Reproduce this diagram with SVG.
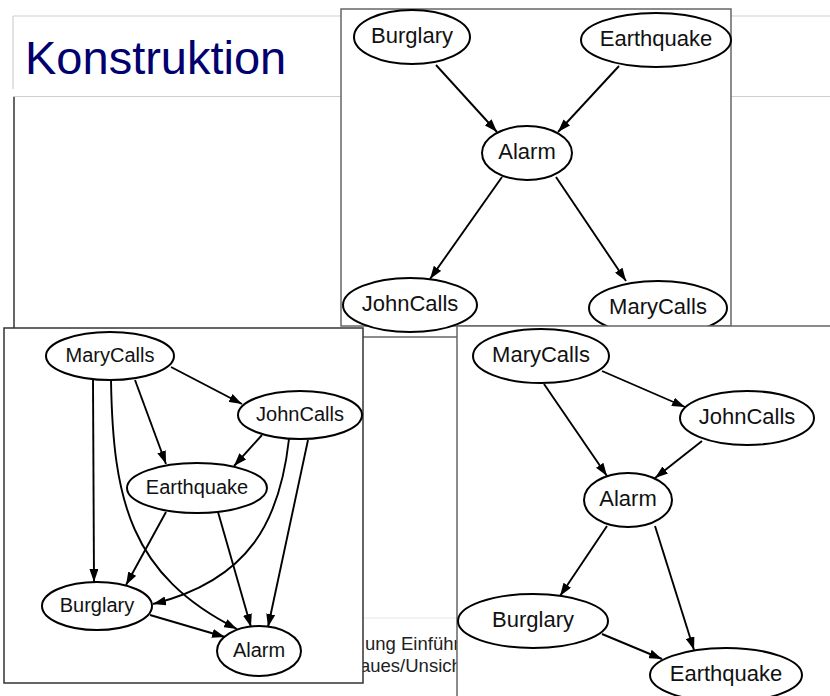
<svg xmlns="http://www.w3.org/2000/svg" width="830" height="696" viewBox="0 0 830 696">
<style>
.bg{fill:#fff}
.tl{stroke:#cfcfcf;stroke-width:1.2;fill:none}
.panel{fill:#fff;stroke:#666;stroke-width:1.5}
.node ellipse{fill:#fff;stroke:#000;stroke-width:2}
.node text{font-family:"Liberation Sans",Arial,sans-serif;fill:#111;text-anchor:middle}
.g1 .node text,.g3 .node text{font-size:22px}
.g2 .node text{font-size:20px}
.edges path,.edges line{stroke:#000;stroke-width:1.9;fill:none;marker-end:url(#ah)}
.title{font-family:"Liberation Sans",Arial,sans-serif;font-size:47px;fill:#00006e}
.foot{font-family:"Liberation Sans",Arial,sans-serif;font-size:18.5px;fill:#222}
</style>
<defs>
<marker id="ah" markerWidth="13" markerHeight="9" refX="13" refY="4.5" orient="auto" markerUnits="userSpaceOnUse">
<path d="M0,0 L13,4.5 L0,9 z" fill="#000"/>
</marker>
</defs>
<rect class="bg" x="0" y="0" width="830" height="696"/>
<!-- title area -->
<line class="tl" x1="13" y1="16" x2="830" y2="16"/>
<line class="tl" x1="13" y1="16" x2="13" y2="89"/>
<line class="tl" x1="13" y1="96.5" x2="830" y2="96.5"/>
<text class="title" x="25" y="74">Konstruktion</text>
<!-- blank frame top-left -->
<rect x="14" y="97" width="600" height="240" fill="#fff"/>
<line x1="14" y1="97" x2="14" y2="337" stroke="#333" stroke-width="1.5"/>
<line x1="14" y1="337" x2="614" y2="337" stroke="#666" stroke-width="1.5"/>
<!-- footer (partly hidden) -->
<line x1="340" y1="618" x2="470" y2="618" stroke="#e6e6e6" stroke-width="1"/>
<text class="foot" x="365" y="650">ung Einführung</text>
<text class="foot" x="360" y="672">aues/Unsicherheit</text>

<!-- top graph -->
<g class="g1">
<rect class="panel" x="341" y="9" width="390" height="317"/>
<g id="t_burglary" class="node"><ellipse cx="412" cy="37" rx="58" ry="27"/><text x="412" y="43">Burglary</text></g>
<g id="t_earthquake" class="node"><ellipse cx="656" cy="40" rx="75" ry="27"/><text x="656" y="46">Earthquake</text></g>
<g id="t_alarm" class="node"><ellipse cx="527" cy="153" rx="45" ry="27"/><text x="527" y="159">Alarm</text></g>
<g id="t_johncalls" class="node"><ellipse cx="410" cy="305" rx="67" ry="27"/><text x="410" y="311">JohnCalls</text></g>
<g id="t_marycalls" class="node"><ellipse cx="658" cy="308" rx="69" ry="27"/><text x="658" y="314">MaryCalls</text></g>
<g class="edges">
<line x1="436" y1="65" x2="497" y2="132"/>
<line x1="619" y1="66" x2="558" y2="132"/>
<line x1="502" y1="177" x2="430" y2="279"/>
<line x1="556" y1="177" x2="626" y2="281"/>
</g>
</g>

<!-- bottom-left graph -->
<g class="g2">
<rect class="panel" x="4" y="328" width="359" height="355" style="stroke:#333"/>
<g id="l_marycalls" class="node"><ellipse cx="110" cy="356" rx="64" ry="24"/><text x="110" y="362">MaryCalls</text></g>
<g id="l_johncalls" class="node"><ellipse cx="300" cy="415" rx="62" ry="24"/><text x="300" y="421">JohnCalls</text></g>
<g id="l_earthquake" class="node"><ellipse cx="197" cy="488" rx="70" ry="25"/><text x="197" y="494">Earthquake</text></g>
<g id="l_burglary" class="node"><ellipse cx="97" cy="606" rx="55" ry="24"/><text x="97" y="612">Burglary</text></g>
<g id="l_alarm" class="node"><ellipse cx="259" cy="651" rx="42" ry="25"/><text x="259" y="657">Alarm</text></g>
<g class="edges">
<line x1="171" y1="367" x2="242" y2="404"/>
<line x1="135" y1="380" x2="166" y2="464"/>
<line x1="93" y1="380" x2="94" y2="582"/>
<path d="M111,380 C113,500 130,575 237,629"/>
<line x1="262" y1="435" x2="234" y2="466"/>
<path d="M289,439 C280,520 250,580 153,604"/>
<line x1="308" y1="440" x2="268" y2="627"/>
<line x1="166" y1="512" x2="126" y2="585"/>
<line x1="218" y1="512" x2="251" y2="627"/>
<line x1="150" y1="615" x2="225" y2="637"/>
</g>
</g>

<!-- bottom-right graph -->
<g class="g3">
<rect class="panel" x="457" y="326" width="380" height="380"/>
<g id="r_marycalls" class="node"><ellipse cx="541" cy="356" rx="68" ry="27"/><text x="541" y="362">MaryCalls</text></g>
<g id="r_johncalls" class="node"><ellipse cx="747" cy="418" rx="67" ry="27"/><text x="747" y="424">JohnCalls</text></g>
<g id="r_alarm" class="node"><ellipse cx="628" cy="500" rx="44" ry="27"/><text x="628" y="506">Alarm</text></g>
<g id="r_burglary" class="node"><ellipse cx="533" cy="621" rx="75" ry="27"/><text x="533" y="627">Burglary</text></g>
<g id="r_earthquake" class="node"><ellipse cx="726" cy="675" rx="76" ry="27"/><text x="726" y="681">Earthquake</text></g>
<g class="edges">
<line x1="602" y1="371" x2="685" y2="407"/>
<line x1="544" y1="384" x2="607" y2="476"/>
<line x1="702" y1="441" x2="655" y2="478"/>
<line x1="607" y1="526" x2="560" y2="596"/>
<line x1="655" y1="526" x2="694" y2="650"/>
<line x1="602" y1="634" x2="662" y2="659"/>
</g>
</g>
</svg>
